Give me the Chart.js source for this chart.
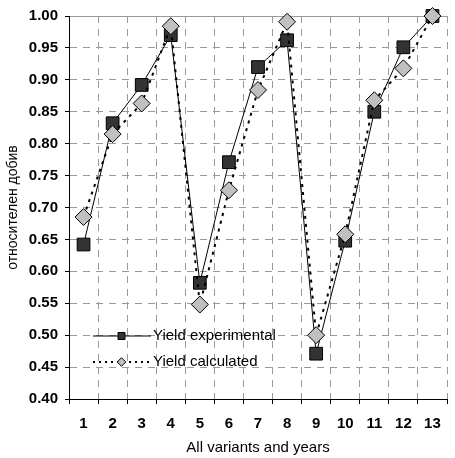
<!DOCTYPE html>
<html><head><meta charset="utf-8">
<script src="https://cdn.jsdelivr.net/npm/chart.js@4/dist/chart.umd.min.js"></script>
<style>html,body{margin:0;padding:0;overflow:hidden;background:#fff}#wrap{width:457px;height:458px}</style>
</head><body><div id="wrap"><canvas id="c" width="457" height="458"></canvas></div>
<script>
const categories = ['1','2','3','4','5','6','7','8','9','10','11','12','13'];
const yieldExperimental = [0.642, 0.832, 0.892, 0.970, 0.582, 0.771, 0.920, 0.962, 0.471, 0.648, 0.850, 0.951, 1.000];
const yieldCalculated   = [0.685, 0.815, 0.863, 0.984, 0.548, 0.727, 0.884, 0.991, 0.500, 0.658, 0.868, 0.918, 1.000];
const seriesNames = ['Yield experimental', 'Yield calculated'];
const yAxisTitle = 'относителен добив';
const xAxisTitle = 'All variants and years';
const yMin = 0.40, yMax = 1.00, yStep = 0.05;

const FONT = 'Arial, "Liberation Sans", sans-serif';
const GRID = '#999999';

const innerLegend = {
  id: 'innerLegend',
  afterDatasetsDraw(chart) {
    const ctx = chart.ctx;
    const rows = [
      {y: 336, name: seriesNames[0], dash: [], lw: 1, shape: 'square'},
      {y: 362, name: seriesNames[1], dash: [2, 4], lw: 2, shape: 'diamond'}
    ];
    ctx.save();
    rows.forEach(r => {
      ctx.beginPath();
      ctx.setLineDash(r.dash);
      ctx.lineWidth = r.lw;
      ctx.strokeStyle = '#000';
      ctx.moveTo(93, r.y); ctx.lineTo(151, r.y);
      ctx.stroke();
      ctx.setLineDash([]);
      ctx.lineWidth = 1;
      const cx = 121.5;
      ctx.beginPath();
      if (r.shape === 'square') {
        ctx.rect(cx - 3.5, r.y - 3.5, 7, 7);
        ctx.fillStyle = '#333333';
      } else {
        ctx.moveTo(cx - 4.3, r.y); ctx.lineTo(cx, r.y - 4.3);
        ctx.lineTo(cx + 4.3, r.y); ctx.lineTo(cx, r.y + 4.3); ctx.closePath();
        ctx.fillStyle = '#c0c0c0';
      }
      ctx.fill(); ctx.stroke();
      ctx.fillStyle = '#000';
      ctx.font = '15px ' + FONT;
      ctx.textBaseline = 'middle';
      ctx.textAlign = 'left';
      ctx.fillText(r.name, 153, r.y);
    });
    ctx.restore();
  }
};

new Chart(document.getElementById('c'), {
  type: 'line',
  data: {
    labels: categories,
    datasets: [
      {
        label: seriesNames[0], data: yieldExperimental, order: 2,
        borderColor: '#000', borderWidth: 1, backgroundColor: '#333333',
        pointStyle: 'rect', pointRadius: 9, pointBorderColor: '#000', pointBorderWidth: 1,
        pointBackgroundColor: '#333333', tension: 0, clip: false
      },
      {
        label: seriesNames[1], data: yieldCalculated, order: 1,
        borderColor: '#000', borderWidth: 2, borderDash: [3, 5], backgroundColor: '#c0c0c0',
        pointStyle: 'rectRot', pointRadius: 8.5, pointBorderColor: '#000', pointBorderWidth: 1,
        pointBackgroundColor: '#c0c0c0', tension: 0, clip: false
      }
    ]
  },
  options: {
    responsive: false,
    animation: false,
    layout: {padding: {top: 14, left: 0, right: 0, bottom: 0}},
    plugins: {legend: {display: false}, tooltip: {enabled: false}},
    scales: {
      x: {
        offset: true,
        grid: {offset: true, color: GRID, lineWidth: 1, tickColor: '#000', tickLength: 5, tickBorderDash: []},
        border: {color: '#000', width: 1, dash: [7, 6]},
        ticks: {color: '#000', font: {family: FONT, size: 15, weight: 'bold'}, padding: 11, maxRotation: 0, autoSkip: false},
        title: {display: true, text: xAxisTitle, color: '#000', font: {family: FONT, size: 15}, padding: {top: 1, bottom: 1}},
        afterFit(s) { s.height = 59; }
      },
      y: {
        min: yMin, max: yMax,
        grid: {
          color: GRID, lineWidth: 1, tickColor: '#000', tickLength: 4, tickBorderDash: []
        },
        border: {
          color: '#000', width: 1,
          dash: c => (c.tick && Math.abs(c.tick.value - yMax) < 1e-9) ? [] : [7, 6]
        },
        ticks: {
          stepSize: yStep, color: '#000', padding: 7,
          font: {family: FONT, size: 15, weight: 'bold'},
          callback: v => v.toFixed(2)
        },
        title: {display: true, text: yAxisTitle, color: '#000', font: {family: FONT, size: 14}, padding: {top: 5, bottom: 5}},
        afterFit(s) { s.width = 69; }
      }
    }
  },
  plugins: [innerLegend]
});
</script>
</body></html>
